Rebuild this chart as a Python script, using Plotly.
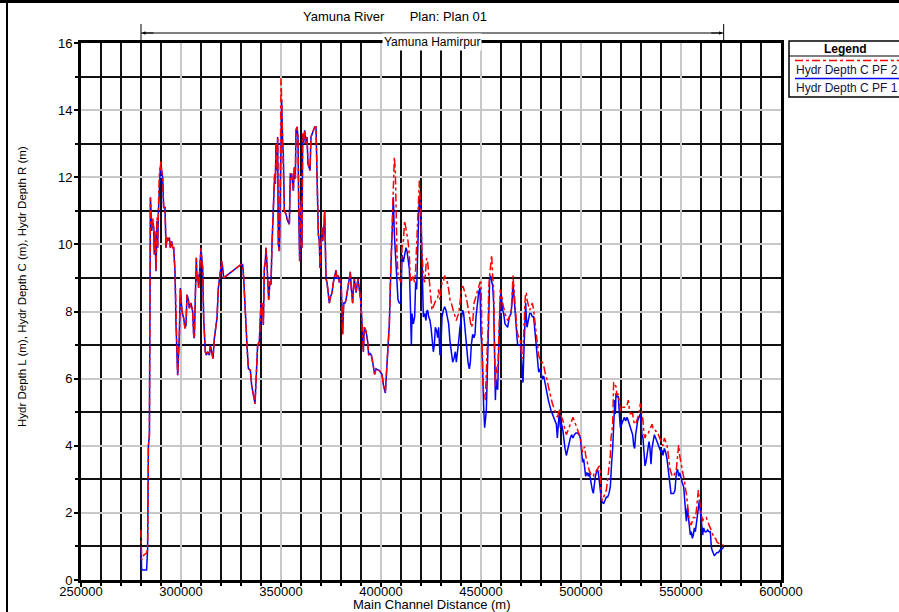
import plotly.graph_objects as go

# ---------------- data ----------------
distance_m = [
    280000, 280330, 281500, 282800, 283300, 283700, 284200, 284700, 285000, 285330,
    285830, 286330, 286670, 287000, 287500, 288000, 288330, 288670, 289170, 289670,
    290000, 290330, 290830, 291330, 292000, 292500, 293000, 293330, 294170, 294670,
    295330, 295830, 296330, 297000, 297500, 298000, 298330, 298830, 299170, 299670,
    300000, 300500, 301330, 302000, 302500, 303000, 303670, 304170, 305000, 305830,
    306330, 306670, 307170, 307670, 308000, 308330, 308830, 309330, 310000, 310500,
    310830, 311330, 311830, 312170, 312670, 313330, 314170, 314670, 315330, 316000,
    316670, 317500, 318000, 318670, 319170, 319670, 320330, 320830, 321330, 330000,
    330830, 331330, 332000, 333000, 333670, 334670, 335330, 337000, 338330, 339170,
    339500, 340000, 340500, 340830, 341170, 341670, 342170, 342500, 343000, 343500,
    343830, 344500, 345000, 345500, 345830, 346330, 346830, 347170, 347500, 348000,
    348330, 348670, 349170, 349500, 350000, 350330, 350830, 351170, 351670, 352500,
    353330, 354170, 354670, 355330, 356170, 356670, 357170, 357500, 358000, 358500,
    358830, 359330, 359670, 360170, 360500, 360830, 361330, 361830, 362500, 363000,
    363500, 364170, 364500, 365000, 365500, 366170, 366830, 367500, 367830, 368330,
    368670, 369170, 369500, 370000, 370500, 370830, 371330, 371830, 372170, 372500,
    373000, 373500, 374170, 374830, 375500, 376170, 376830, 377500, 378000, 378670,
    379170, 379670, 380170, 380500, 380830, 381330, 382000, 382500, 383330, 384170,
    384670, 385170, 385830, 386170, 386670, 387500, 388000, 388500, 389170, 389830,
    390330, 390830, 391170, 391670, 392500, 393330, 393830, 394500, 395170, 395830,
    396330, 396830, 397500, 399170, 400500, 401170, 402170, 402830, 403500, 404170,
    404830, 405500, 406170, 406670, 407170, 407500, 408000, 408500, 409170, 410000,
    410500, 411170, 411830, 412500, 413000, 413500, 414170, 414670, 415170, 415500,
    416170, 416830, 417330, 417830, 418330, 418830, 419170, 419500, 420000, 420330,
    420830, 421170, 421830, 422500, 422830, 423330, 423830, 424500, 425000, 425500,
    426170, 426670, 427170, 427830, 428330, 428830, 429500, 430000, 430500, 431170,
    431830, 432500, 433170, 433830, 434500, 435170, 435830, 436500, 437170, 437670,
    438170, 438830, 439500, 440170, 440830, 441330, 441830, 442500, 443000, 443500,
    444170, 444670, 445170, 445830, 446500, 447000, 447500, 448170, 448830, 449500,
    450000, 450500, 450830, 451000, 451330, 451830, 452170, 452670, 453170, 453500,
    453830, 454330, 454830, 455330, 455830, 456330, 456830, 457200, 457500, 457800,
    458330, 458830, 459170, 459670, 460000, 460330, 460830, 461330, 462000, 462670,
    463330, 464170, 465000, 465500, 466000, 466500, 467000, 467500, 468000, 468330,
    469000, 469670, 470000, 470500, 471000, 471330, 471670, 472000, 472330, 472670,
    473000, 473330, 473830, 474330, 475000, 475670, 476330, 476670, 477170, 477670,
    478000, 478330, 478830, 479330, 480000, 480670, 481330, 482000, 482500, 483000,
    483670, 484330, 485000, 485670, 486330, 487000, 487670, 488170, 488670, 489170,
    489670, 490330, 491000, 491500, 492000, 492670, 493330, 494000, 494670, 495330,
    496000, 496670, 497500, 498330, 499000, 499670, 500330, 500830, 501330, 501830,
    502330, 503000, 503670, 504170, 504670, 505170, 505670, 506170, 506670, 507170,
    507670, 508170, 508670, 509170, 509670, 510170, 510670, 511330, 512000, 512670,
    513330, 514000, 514670, 515000, 515330, 515830, 516330, 516900, 517170, 517500,
    518000, 518670, 519170, 519670, 520330, 521000, 521670, 522330, 523000, 523670,
    524170, 524670, 525330, 525830, 526330, 526830, 527330, 527830, 528330, 529000,
    529670, 530000, 530500, 531000, 531500, 532000, 532500, 533000, 533500, 534000,
    534500, 535000, 535500, 536000, 536670, 537330, 538000, 538670, 539330, 540000,
    540500, 541000, 541670, 542330, 543000, 543500, 544000, 544500, 545000, 545670,
    546330, 547000, 547670, 548330, 548830, 549330, 550000, 550670, 551330, 551830,
    552330, 552670, 553170, 553670, 554170, 554670, 555170, 555670, 556170, 556670,
    557170, 557670, 558170, 558670, 559170, 559670, 560330, 560830, 561330, 562000,
    562670, 563330, 564000, 564670, 565000, 565330, 566000, 566670, 567330, 568000,
    568670, 569330, 570000, 570670, 571330,
]

depth_pf1 = [
    1.0, 0.3, 0.3, 0.3, 0.9, 4.0, 4.3, 11.4, 11.0, 10.4,
    10.7, 10.5, 9.7, 10.3, 9.2, 10.7, 9.9, 10.9, 12.0, 12.3,
    12.2, 12.2, 12.0, 11.1, 11.1, 9.9, 10.2, 10.1, 10.2, 9.9,
    10.1, 9.9, 9.9, 9.2, 7.6, 6.8, 6.1, 6.8, 7.3, 8.7,
    8.2, 8.0, 7.8, 7.5, 7.6, 8.5, 8.35, 8.1, 8.25, 8.0,
    7.3, 7.2, 8.45, 9.6, 8.9, 9.1, 8.7, 9.1, 9.9, 9.5,
    9.3, 7.8, 7.1, 6.8, 6.7, 6.8, 6.7, 7.0, 6.8, 6.6,
    7.2, 7.6, 7.8, 8.7, 8.9, 9.2, 9.5, 9.3, 9.0, 9.4,
    9.4, 9.0, 8.0, 7.0, 6.3, 6.25, 5.8, 5.25, 7.0, 7.1,
    7.6, 8.25, 7.85, 8.25, 7.6, 9.3, 9.5, 9.9, 9.4, 8.9,
    8.35, 8.9, 8.8, 10.0, 10.7, 11.0, 12.1, 11.8, 13.0, 12.2,
    13.2, 10.0, 9.8, 10.9, 14.0, 14.3, 13.0, 12.7, 11.0, 10.9,
    10.7, 10.6, 12.1, 12.1, 11.6, 12.3, 11.96, 13.4, 13.5, 13.2,
    11.1, 9.5, 10.9, 11.3, 9.9, 13.3, 13.0, 13.4, 13.0, 13.2,
    12.4, 12.3, 12.2, 13.2, 13.3, 13.4, 13.5, 13.5, 12.6, 12.0,
    10.3, 10.1, 9.3, 9.9, 10.5, 10.1, 10.3, 11.0, 10.1, 8.97,
    8.87, 8.56, 8.25, 8.45, 8.56, 8.87, 9.07, 9.23, 8.97, 9.07,
    8.87, 8.97, 8.66, 7.84, 7.32, 8.25, 8.25, 8.35, 8.66, 8.97,
    9.18, 8.66, 8.25, 8.66, 8.97, 8.56, 8.87, 8.97, 8.66, 8.35,
    7.84, 7.01, 6.8, 7.53, 7.42, 7.11, 6.7, 6.75, 6.7, 6.49,
    6.29, 6.13, 6.29, 6.24, 6.13, 5.82, 5.57, 6.29, 7.01, 7.63,
    9.07, 10.2, 11.4, 10.3, 9.7, 9.38, 9.07, 8.35, 8.25, 8.25,
    9.69, 9.48, 9.69, 9.9, 9.8, 9.48, 9.28, 8.25, 7.01, 7.94,
    7.63, 7.84, 8.87, 8.66, 10.1, 10.8, 11.4, 11.1, 10.9, 10.0,
    7.84, 7.84, 7.94, 7.73, 8.0, 8.04, 7.84, 7.73, 7.53, 7.22,
    6.8, 7.01, 7.53, 7.42, 7.22, 7.53, 6.7, 7.01, 7.84, 8.04,
    8.14, 8.04, 7.84, 7.63, 7.11, 6.8, 6.49, 6.6, 6.8, 6.49,
    6.7, 7.11, 7.53, 7.84, 8.04, 7.94, 7.63, 7.01, 6.8, 6.49,
    6.29, 6.49, 7.01, 7.32, 7.22, 7.32, 7.84, 8.25, 8.56, 8.71,
    7.32, 7.01, 6.0, 5.5, 5.15, 4.54, 4.85, 5.05, 6.19, 7.01,
    7.73, 8.97, 9.07, 8.87, 8.76, 8.25, 6.19, 5.36, 5.98, 5.77,
    5.67, 7.01, 7.32, 8.45, 8.56, 8.25, 8.04, 7.94, 7.63, 7.58,
    7.53, 7.84, 7.94, 8.25, 8.87, 8.45, 7.84, 7.63, 7.22, 7.01,
    7.01, 7.01, 6.8, 6.13, 5.88, 6.6, 7.11, 8.04, 8.25, 7.84,
    7.53, 7.63, 7.84, 7.94, 7.94, 7.84, 7.84, 7.63, 7.22, 7.01,
    6.7, 6.39, 6.19, 6.29, 6.19, 5.98, 6.08, 5.88, 5.67, 5.57,
    5.36, 5.15, 5.05, 4.95, 4.85, 4.74, 4.64, 4.23, 4.74, 5.05,
    4.54, 4.64, 4.43, 4.12, 3.92, 3.71, 3.92, 4.12, 4.23, 4.33,
    4.23, 4.33, 4.38, 4.38, 4.33, 4.23, 3.71, 3.51, 3.61, 3.3,
    3.09, 3.2, 3.09, 3.2, 3.0, 2.78, 2.68, 2.58, 2.89, 3.09,
    3.2, 3.3, 3.2, 3.0, 2.68, 2.37, 2.32, 2.27, 2.37, 2.47,
    2.47, 2.58, 2.78, 3.3, 3.51, 3.92, 4.74, 5.36, 4.95, 5.57,
    5.46, 5.46, 4.95, 4.54, 4.64, 4.74, 4.85, 4.74, 4.85, 4.74,
    4.64, 4.54, 4.43, 4.33, 4.02, 3.92, 4.33, 4.64, 4.74, 4.85,
    4.95, 4.74, 4.33, 4.23, 3.81, 3.4, 3.51, 3.71, 3.92, 4.12,
    3.92, 3.45, 3.92, 4.12, 4.33, 4.23, 4.12, 4.02, 3.92, 3.81,
    3.87, 3.71, 3.92, 3.81, 3.61, 3.3, 3.0, 2.78, 2.58, 2.58,
    2.58, 2.68, 3.2, 3.3, 3.09, 3.2, 3.0, 2.89, 2.78, 2.47,
    2.06, 1.75, 2.16, 1.86, 1.44, 1.34, 1.44, 1.24, 1.34, 1.55,
    1.44, 1.65, 1.86, 2.06, 2.37, 2.06, 1.65, 1.34, 1.55, 1.44,
    1.44, 1.49, 1.44, 1.44, 1.13, 0.93, 0.82, 0.72, 0.77, 0.82,
    0.82, 0.88, 0.93, 0.93, 0.98,
]

depth_pf2 = [
    1.5, 0.6, 0.75, 0.8, 0.95, 4.0, 4.3, 11.4, 11.0, 10.5,
    10.8, 10.5, 9.7, 10.4, 9.2, 10.8, 9.9, 11.0, 12.1, 12.3,
    12.5, 12.2, 12.0, 11.1, 11.1, 9.9, 10.2, 10.1, 10.2, 9.9,
    10.1, 9.9, 9.9, 9.2, 7.6, 6.8, 6.1, 6.8, 7.3, 8.7,
    8.2, 8.0, 7.8, 7.5, 7.6, 8.5, 8.35, 8.1, 8.25, 8.0,
    7.3, 7.2, 8.45, 9.6, 8.9, 9.1, 8.7, 9.1, 9.9, 9.5,
    9.3, 7.8, 7.1, 6.8, 6.7, 6.8, 6.7, 7.0, 6.8, 6.6,
    7.2, 7.6, 7.8, 8.7, 8.9, 9.2, 9.5, 9.3, 9.0, 9.4,
    9.4, 9.0, 8.0, 7.0, 6.3, 6.25, 5.8, 5.25, 7.0, 7.1,
    7.6, 8.25, 7.85, 8.25, 7.6, 9.3, 9.5, 9.9, 9.4, 8.9,
    8.35, 8.9, 8.8, 10.0, 10.7, 11.0, 12.1, 11.8, 13.0, 12.2,
    13.2, 10.0, 9.8, 10.9, 14.95, 14.3, 13.0, 12.7, 11.0, 10.9,
    10.7, 10.6, 12.1, 12.1, 11.6, 12.3, 11.96, 13.4, 13.5, 13.2,
    11.1, 9.5, 10.9, 11.3, 9.9, 13.3, 13.0, 13.4, 13.0, 13.2,
    12.4, 12.3, 12.2, 13.2, 13.3, 13.4, 13.5, 13.5, 12.6, 12.0,
    10.3, 10.1, 9.3, 9.9, 10.5, 10.1, 10.3, 11.0, 10.1, 8.97,
    8.87, 8.56, 8.25, 8.45, 8.56, 8.87, 9.07, 9.23, 8.97, 9.07,
    8.87, 8.97, 8.66, 7.84, 7.32, 8.25, 8.25, 8.35, 8.66, 8.97,
    9.18, 8.66, 8.25, 8.66, 8.97, 8.56, 8.87, 8.97, 8.66, 8.35,
    7.84, 7.01, 6.8, 7.53, 7.42, 7.11, 6.7, 6.75, 6.7, 6.49,
    6.29, 6.13, 6.29, 6.24, 6.13, 5.82, 5.6, 6.29, 7.01, 7.63,
    9.2, 10.5, 11.9, 12.6, 12.2, 10.7, 9.7, 9.07, 8.97, 8.87,
    9.9, 10.1, 10.7, 10.5, 10.3, 10.1, 9.7, 8.9, 8.87, 9.07,
    9.0, 8.87, 9.28, 9.9, 10.7, 11.6, 11.9, 11.4, 11.0, 10.0,
    9.07, 9.0, 8.87, 9.4, 9.59, 9.48, 9.07, 8.66, 8.35, 8.04,
    8.14, 8.25, 8.3, 8.35, 8.4, 8.66, 8.35, 8.56, 8.87, 8.87,
    9.07, 8.97, 8.87, 8.66, 8.35, 8.25, 8.04, 7.94, 7.84, 7.73,
    7.84, 7.94, 8.25, 8.66, 8.76, 8.7, 8.56, 8.45, 8.3, 8.14,
    7.84, 7.7, 7.53, 7.63, 8.25, 8.35, 8.45, 8.56, 8.66, 8.87,
    8.87, 7.1, 6.3, 5.77, 5.6, 5.57, 5.36, 6.49, 7.01, 7.42,
    8.66, 9.07, 9.38, 9.69, 9.07, 8.66, 6.8, 5.77, 6.39, 6.19,
    6.19, 7.01, 7.6, 8.66, 8.56, 8.5, 8.25, 8.1, 7.94, 7.84,
    7.73, 7.84, 7.94, 8.4, 9.07, 8.66, 8.14, 7.94, 7.42, 7.32,
    7.22, 7.11, 6.91, 6.6, 6.7, 7.5, 7.84, 8.3, 8.56, 8.56,
    8.35, 8.25, 8.14, 8.04, 8.14, 8.25, 8.04, 7.84, 7.53, 7.22,
    7.01, 6.9, 6.7, 6.6, 6.49, 6.49, 6.39, 6.19, 6.1, 5.98,
    5.77, 5.57, 5.36, 5.26, 5.15, 5.05, 4.95, 4.85, 4.95, 5.1,
    4.95, 4.85, 4.74, 4.6, 4.43, 4.33, 4.43, 4.54, 4.64, 4.74,
    4.85, 4.74, 4.6, 4.5, 4.33, 4.25, 3.92, 3.81, 3.92, 3.97,
    3.71, 3.51, 3.3, 3.25, 3.2, 3.1, 3.09, 3.09, 3.2, 3.25,
    3.25, 3.3, 3.35, 3.4, 3.3, 2.47, 2.37, 2.47, 2.58, 2.68,
    3.0, 3.4, 3.71, 4.23, 4.43, 4.64, 5.88, 5.88, 5.8, 5.77,
    5.5, 5.55, 5.3, 5.05, 5.05, 5.15, 5.15, 5.15, 5.2, 5.36,
    5.1, 4.95, 4.95, 4.95, 4.74, 4.64, 4.64, 4.74, 4.85, 4.95,
    5.26, 5.15, 4.95, 4.74, 4.33, 4.23, 4.33, 4.33, 4.33, 4.43,
    4.5, 4.54, 4.64, 4.54, 4.54, 4.43, 4.43, 4.33, 4.23, 4.12,
    4.02, 4.0, 4.23, 4.12, 4.02, 3.8, 3.4, 3.3, 3.2, 3.09,
    3.09, 3.2, 3.3, 3.71, 4.02, 3.71, 3.51, 3.3, 3.09, 2.9,
    2.68, 2.58, 2.3, 1.9, 1.75, 1.65, 1.65, 1.75, 1.86, 1.86,
    1.86, 2.06, 2.4, 2.68, 2.4, 2.16, 1.96, 1.75, 1.86, 1.86,
    1.86, 1.75, 1.65, 1.55, 1.5, 1.44, 1.34, 1.24, 1.24, 1.13,
    1.1, 1.08, 1.05, 1.05, 1.03,
]

x_range = [250000, 600000]
y_range = [0, 16]
series_names = ["Hydr Depth C PF 1", "Hydr Depth C PF 2"]
reach_label = "Yamuna Hamirpur"
title_text = "Yamuna River\u00a0\u00a0\u00a0\u00a0\u00a0\u00a0\u00a0Plan: Plan 01"
x_title = "Main Channel Distance (m)"
y_title = "Hydr Depth L (m), Hydr Depth C (m), Hydr Depth R (m)"

# ---------------- layout geometry (pixels) ----------------
W, H = 899, 612
ML, MR, MT, MB = 81, 118, 43, 32
PW, PH = W - ML - MR, H - MT - MB
FONT = "Liberation Sans, Arial, sans-serif"


def px(xp):
    return (xp - ML) / PW


def py(yp):
    return (H - MB - yp) / PH


def dpx(v):
    return (v - x_range[0]) / (x_range[1] - x_range[0])


fig = go.Figure()
fig.add_trace(go.Scatter(x=distance_m, y=depth_pf1, mode="lines", name=series_names[0],
                         line=dict(color="#0000ff", width=1.5)))
fig.add_trace(go.Scatter(x=distance_m, y=depth_pf2, mode="lines", name=series_names[1],
                         line=dict(color="#ff0000", width=1.5, dash="8px,3px,3px,3px")))

axis_common = dict(
    showline=True, linecolor="black", linewidth=3, mirror=True, automargin=False,
    ticks="outside", ticklen=4, tickwidth=1.5, tickcolor="black",
    showgrid=True, gridcolor="#c8c8c8", gridwidth=1.5, zeroline=False,
    tickfont=dict(family=FONT, size=13, color="black"),
)
fig.update_xaxes(range=x_range, tick0=250000, dtick=50000, tickformat="d",
                 ticklabelstandoff=-7,
                 minor=dict(dtick=10000, tick0=250000, showgrid=True, gridcolor="#111111",
                            gridwidth=1.6, ticks="outside", ticklen=3, tickcolor="black"),
                 **axis_common)
fig.update_yaxes(range=y_range, tick0=0, dtick=2, ticklabelstandoff=-1,
                 minor=dict(dtick=1, tick0=0, showgrid=True, gridcolor="#111111",
                            gridwidth=1.6, ticks="outside", ticklen=3, tickcolor="black"),
                 **axis_common)

shapes = []
annotations = []

# outer frame (top and left edges visible)
shapes.append(dict(type="line", xref="paper", yref="paper", x0=px(-5), x1=px(W + 10),
                   y0=py(1.5), y1=py(1.5), line=dict(color="black", width=3)))
shapes.append(dict(type="line", xref="paper", yref="paper", x0=px(7), x1=px(7),
                   y0=py(1.5), y1=py(H + 10), line=dict(color="black", width=2)))

# title
annotations.append(dict(text=title_text, xref="paper", yref="paper", x=px(395), y=py(17),
                        showarrow=False, xanchor="center", yanchor="middle",
                        font=dict(family=FONT, size=13, color="black")))

# reach bracket
x0b, x1b = dpx(min(distance_m)), dpx(max(distance_m))
yb = py(33)
shapes.append(dict(type="line", xref="paper", yref="paper", x0=x0b, x1=x1b, y0=yb, y1=yb,
                   line=dict(color="black", width=1)))
for xe in (x0b, x1b):
    shapes.append(dict(type="line", xref="paper", yref="paper", x0=xe, x1=xe,
                       y0=py(24), y1=py(42), line=dict(color="black", width=1)))
for xe, off in ((min(distance_m), 14), (max(distance_m), -14)):
    annotations.append(dict(x=xe, y=yb, xref="x", yref="paper", text="", showarrow=True,
                            ax=off, ay=0, arrowhead=2, arrowsize=0.7, arrowwidth=1,
                            arrowcolor="black", standoff=1))
annotations.append(dict(text=reach_label, xref="x", yref="paper",
                        x=(min(distance_m) + max(distance_m)) / 2, y=yb,
                        showarrow=False, bgcolor="white", borderpad=1,
                        font=dict(family=FONT, size=12, color="black")))

# axis titles
annotations.append(dict(text=x_title, xref="paper", yref="paper", x=px(432), y=py(604),
                        showarrow=False, xanchor="center", yanchor="middle",
                        font=dict(family=FONT, size=13, color="black")))
annotations.append(dict(text=y_title, xref="paper", yref="paper", x=px(22), y=py(287),
                        showarrow=False, textangle=-90, xanchor="center", yanchor="middle",
                        font=dict(family=FONT, size=11.5, color="black")))

# custom legend box (HEC-RAS style)
shapes.append(dict(type="rect", xref="paper", yref="paper", x0=px(789), x1=px(W + 20),
                   y0=py(41), y1=py(97), line=dict(color="black", width=1.5),
                   fillcolor="white"))
shapes.append(dict(type="line", xref="paper", yref="paper", x0=px(789), x1=px(W + 20),
                   y0=py(56), y1=py(56), line=dict(color="black", width=1)))
annotations.append(dict(text="<b>Legend</b>", xref="paper", yref="paper", x=px(846), y=py(48.5),
                        showarrow=False, xanchor="center", yanchor="middle",
                        font=dict(family=FONT, size=12, color="black")))
legend_rows = [(series_names[1], "#ff0000", "8px,3px,3px,3px", 60.5, 70),
               (series_names[0], "#0000ff", "solid", 78.5, 88)]
for name, col, dash, yl, yt in legend_rows:
    shapes.append(dict(type="line", xref="paper", yref="paper", x0=px(795), x1=px(W + 20),
                       y0=py(yl), y1=py(yl), line=dict(color=col, width=1.5, dash=dash)))
    annotations.append(dict(text=name, xref="paper", yref="paper", x=px(794), y=py(yt),
                            showarrow=False, xanchor="left", yanchor="middle",
                            font=dict(family=FONT, size=12, color="#14143c")))

fig.update_layout(
    width=W, height=H,
    margin=dict(l=ML, r=MR, t=MT, b=MB, autoexpand=False),
    plot_bgcolor="white", paper_bgcolor="white",
    showlegend=False,
    shapes=shapes, annotations=annotations,
    font=dict(family=FONT, size=13, color="black"),
)

fig.write_html("out.html",
               config={"displayModeBar": False, "responsive": False},
               post_script="document.body.style.margin='0';document.body.style.overflow='hidden';")
